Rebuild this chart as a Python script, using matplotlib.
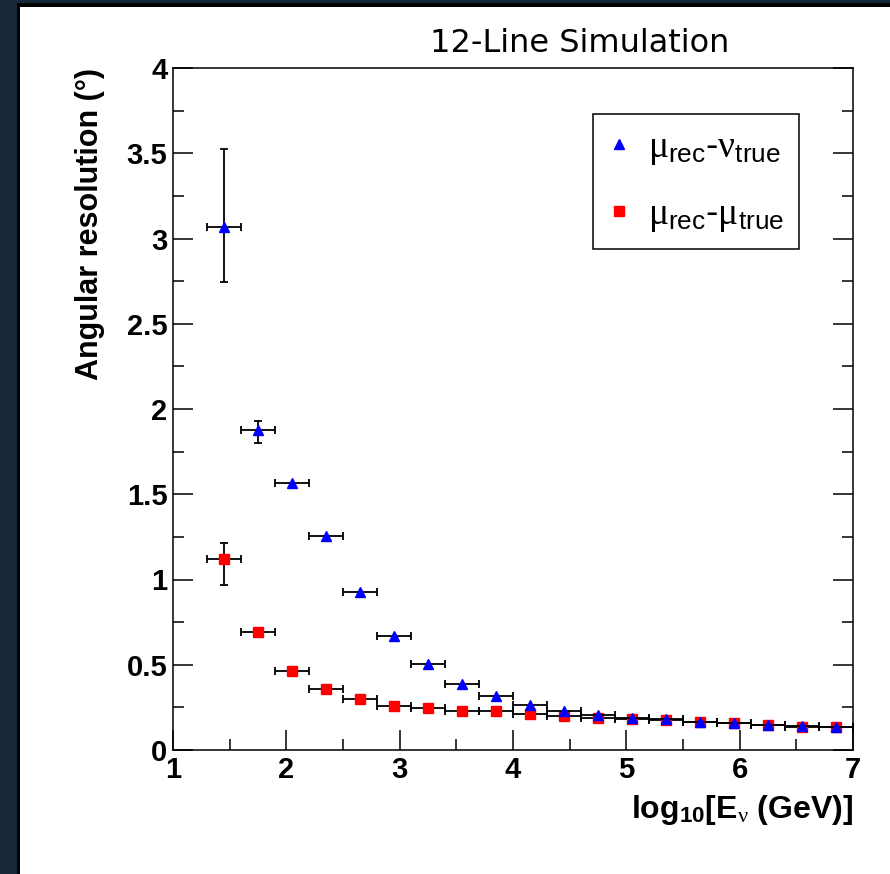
import matplotlib
matplotlib.use('Agg')
import matplotlib.pyplot as plt
import numpy as np
from matplotlib.lines import Line2D
from matplotlib.patches import Rectangle
from matplotlib.ticker import MultipleLocator, FuncFormatter

# bin centres in log10(E/GeV), bins are 0.3 wide
energy = [1.45, 1.75, 2.05, 2.35, 2.65, 2.95, 3.25, 3.55, 3.85, 4.15,
          4.45, 4.75, 5.05, 5.35, 5.65, 5.95, 6.25, 6.55, 6.85]
bin_half = 0.15

# mu_rec - nu_true
res_nu = [3.07, 1.875, 1.568, 1.255, 0.927, 0.669, 0.503, 0.387, 0.314, 0.264,
          0.229, 0.207, 0.190, 0.180, 0.164, 0.156, 0.147, 0.141, 0.137]
res_nu_lo = [0.325, 0.077] + [0] * 17
res_nu_hi = [0.455, 0.053] + [0] * 17

# mu_rec - mu_true
res_mu = [1.12, 0.694, 0.465, 0.356, 0.301, 0.260, 0.247, 0.229, 0.228, 0.211,
          0.199, 0.190, 0.182, 0.176, 0.162, 0.156, 0.145, 0.137, 0.133]
res_mu_lo = [0.152] + [0] * 18
res_mu_hi = [0.092] + [0] * 18

plt.rcParams['font.family'] = ['Liberation Sans', 'DejaVu Sans']
plt.rcParams['mathtext.fontset'] = 'custom'
plt.rcParams['mathtext.rm'] = 'Liberation Sans'
plt.rcParams['mathtext.it'] = 'Liberation Serif'
plt.rcParams['mathtext.bf'] = 'Liberation Sans:bold'

W, H = 890, 874
fig = plt.figure(figsize=(W / 100, H / 100), dpi=100, facecolor='#17273a')

# slide panel: black edge on left/top, white page
fig.add_artist(Rectangle((17 / W, 0), 1, 1 - 3 / H, transform=fig.transFigure,
                         facecolor='black', edgecolor='none', zorder=-10))
fig.add_artist(Rectangle((20 / W, 0), 1, 1 - 7 / H, transform=fig.transFigure,
                         facecolor='white', edgecolor='none', zorder=-9))

ax = fig.add_axes([173 / W, 1 - 750 / H, 680 / W, 682 / H])
ax.set_facecolor('white')


def nan_zero(a):
    a = np.asarray(a, dtype=float)
    return np.where(a > 0, a, np.nan)


err_kw = dict(ecolor='black', elinewidth=1.3, capsize=3, capthick=1.3, ls='none')

ax.errorbar(energy, res_mu, xerr=bin_half,
            yerr=[nan_zero(res_mu_lo), nan_zero(res_mu_hi)],
            fmt='s', color='red', mec='red', ms=6.5, zorder=3, **err_kw)
ax.errorbar(energy, res_nu, xerr=bin_half,
            yerr=[nan_zero(res_nu_lo), nan_zero(res_nu_hi)],
            fmt='^', color='blue', mec='blue', ms=6.5, zorder=4, **err_kw)

ax.set_xlim(1, 7)
ax.set_ylim(0, 4)

ax.xaxis.set_major_locator(MultipleLocator(1))
ax.xaxis.set_minor_locator(MultipleLocator(0.5))
ax.yaxis.set_major_locator(MultipleLocator(0.5))
ax.yaxis.set_minor_locator(MultipleLocator(0.25))
fmt = FuncFormatter(lambda v, p: '%g' % v)
ax.xaxis.set_major_formatter(fmt)
ax.yaxis.set_major_formatter(fmt)

ax.tick_params(which='both', direction='in', top=False, right=True,
               width=1.1, color='black')
ax.tick_params(which='major', length=14.5, pad=4)
ax.tick_params(which='minor', length=8)
for lab in ax.get_xticklabels() + ax.get_yticklabels():
    lab.set_fontsize(21)
    lab.set_fontweight('bold')
for s in ax.spines.values():
    s.set_linewidth(1.1)

ax.set_ylabel('Angular resolution (°)', fontsize=22, fontweight='bold',
              loc='top', va='center')
ax.yaxis.set_label_coords(-0.122, 1.0)
ax.set_xlabel(r'log$_{\mathbf{10}}$[E$_{\nu}$ (GeV)]', fontsize=23,
              fontweight='bold', loc='right', va='top')
ax.xaxis.set_label_coords(1.0, -0.063)

handles = [
    Line2D([], [], marker='^', color='blue', ls='none', ms=6.5),
    Line2D([], [], marker='s', color='red', ls='none', ms=6.5),
]
labels = [r'$\mu_{\mathrm{rec}}$-$\nu_{\mathrm{true}}$',
          r'$\mu_{\mathrm{rec}}$-$\mu_{\mathrm{true}}$']
leg = ax.legend(handles, labels, loc='upper left', bbox_to_anchor=(0.618, 0.933),
                fontsize=27, fancybox=False, framealpha=1, edgecolor='black',
                borderpad=0.4, labelspacing=0.78, handlelength=0.6,
                handletextpad=0.45, borderaxespad=0)
leg.get_frame().set_linewidth(1.1)

fig.text(580 / W, 1 - 52 / H, '12-Line Simulation', fontsize=23,
         family='DejaVu Sans', ha='center', va='baseline')

fig.savefig('out.png', dpi=100, facecolor=fig.get_facecolor())
